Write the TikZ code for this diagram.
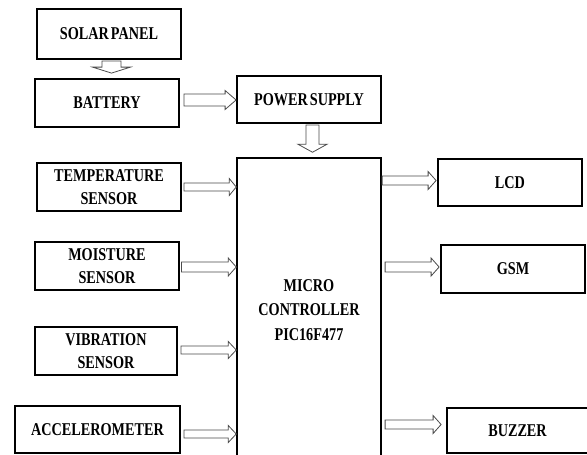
\documentclass[tikz,border=0pt]{standalone}
\usepackage{fontspec}
\newfontfamily\lblfont[FakeStretch=0.79]{Liberation Serif}
\usetikzlibrary{calc}
\tikzset{
  ashaft/.store in=\ashaft, ahead/.store in=\ahead, alen/.store in=\alen,
  ashaft=4pt, ahead=8.5pt, alen=8pt,
  blkbox/.style={draw, line width=1.8pt, inner sep=0pt, align=center,
    font=\lblfont\bfseries\fontsize{18}{23}\selectfont},
  mcubox/.style={draw, line width=1.5pt, inner sep=0pt, align=center,
    font=\lblfont\bfseries\fontsize{18}{24.5}\selectfont},
  harrow/.style={draw=black!70, line width=0.8pt, fill=white, line join=miter,
    to path={let \p1=(\tikztostart), \p2=(\tikztotarget) in
      (\x1,\y1+\ashaft) -- (\x2-\alen,\y1+\ashaft) -- (\x2-\alen,\y1+\ahead) -- (\x2,\y1)
      -- (\x2-\alen,\y1-\ahead) -- (\x2-\alen,\y1-\ashaft) -- (\x1,\y1-\ashaft) -- cycle}},
  varrow/.style={draw=black!70, line width=0.8pt, fill=white, line join=miter,
    to path={let \p1=(\tikztostart), \p2=(\tikztotarget) in
      (\x1-\ashaft,\y1) -- (\x1-\ashaft,\y2+\alen) -- (\x1-\ahead,\y2+\alen) -- (\x1,\y2)
      -- (\x1+\ahead,\y2+\alen) -- (\x1+\ashaft,\y2+\alen) -- (\x1+\ashaft,\y1) -- cycle}},
}
\begin{document}
\begin{tikzpicture}[x=1pt,y=-1pt]
\useasboundingbox (0,0) rectangle (587,455);
\clip (0,0) rectangle (587,455);
\fill[white] (0,0) rectangle (587,455);

% boxes
\node[blkbox, minimum width=144pt, minimum height=50pt] (solar) at (109,34) {SOLAR\hspace{-1.5pt} PANEL};
\node[blkbox, minimum width=144pt, minimum height=48pt] (bat) at (107,103) {BATTERY};
\node[blkbox, minimum width=144pt, minimum height=47pt] (pow) at (309,99.5) {POWER\hspace{-1.5pt} SUPPLY};
\node[blkbox, minimum width=144pt, minimum height=48pt] (temp) at (109,187) {TEMPERATURE\\SENSOR};
\node[blkbox, minimum width=144pt, minimum height=48pt] (moist) at (107,266) {MOISTURE\\SENSOR};
\node[blkbox, minimum width=142pt, minimum height=48pt] (vib) at (106,351) {VIBRATION\\SENSOR};
\node[blkbox, minimum width=165pt, minimum height=47pt] (acc) at (97.5,429.5) {ACCELEROMETER};
\node[mcubox, minimum width=144pt, minimum height=304pt] (mcu) at (309,310) {MICRO\\CONTROLLER\\PIC16F477};
\node[blkbox, minimum width=144pt, minimum height=47pt] (lcd) at (510,182.5) {LCD};
\node[blkbox, minimum width=144pt, minimum height=48pt] (gsm) at (513,269) {GSM};
\node[blkbox, minimum width=141pt, minimum height=45pt] (buz) at (517.5,430.5) {BUZZER};

% vertical block arrows
\draw[varrow, ashaft=9.5pt, ahead=19pt, alen=6pt] ([shift={(2.5,1)}]solar.south) to ([shift={(2.5,-5)}]bat.north);
\draw[varrow, ashaft=6.5pt, ahead=14.5pt, alen=8pt] ([shift={(3.5,1)}]pow.south) to ([shift={(3.5,-5)}]mcu.north);

% horizontal block arrows into power supply / controller
\draw[harrow, ashaft=6pt, ahead=9.5pt, alen=11pt] ([shift={(4,-3)}]bat.east) to (pow.west);
\draw[harrow, ashaft=4pt, ahead=8.5pt, alen=7pt] ([shift={(2,0)}]temp.east) to (temp.east -| mcu.west);
\draw[harrow, ashaft=5pt, ahead=9pt, alen=8pt] ([shift={(1.5,1)}]moist.east) to (moist.east -| mcu.west);
\draw[harrow, ashaft=4pt, ahead=8.5pt, alen=8pt] ([shift={(3,-1)}]vib.east) to (vib.east -| mcu.west);
\draw[harrow, ashaft=4pt, ahead=8.5pt, alen=8pt] ([shift={(3,4.5)}]acc.east) to (acc.east -| mcu.west);

% outputs
\draw[harrow, ashaft=4.5pt, ahead=9pt, alen=8pt] ([shift={(-55,-2)}]lcd.west) to ([xshift=-1]lcd.west);
\draw[harrow, ashaft=5pt, ahead=9pt, alen=8pt] ([shift={(-55,-2)}]gsm.west) to ([xshift=-1]gsm.west);
\draw[harrow, ashaft=4.5pt, ahead=9pt, alen=8pt] ([shift={(-61,-6)}]buz.west) to ([xshift=-5]buz.west);
\end{tikzpicture}
\end{document}
